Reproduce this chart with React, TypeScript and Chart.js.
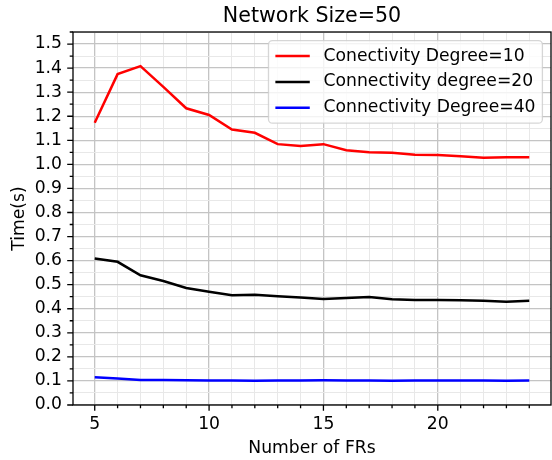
import React, { useEffect, useRef } from "react";
import { Chart, registerables } from "chart.js";

Chart.register(...registerables);

const frs = [5, 6, 7, 8, 9, 10, 11, 12, 13, 14, 15, 16, 17, 18, 19, 20, 21, 22, 23, 24];
const degree10 = [1.173, 1.375, 1.408, 1.322, 1.233, 1.205, 1.145, 1.131, 1.084, 1.076, 1.084, 1.059, 1.05, 1.048, 1.04, 1.039, 1.034, 1.027, 1.03, 1.03];
const degree20 = [0.609, 0.595, 0.539, 0.515, 0.486, 0.471, 0.456, 0.458, 0.452, 0.447, 0.44, 0.445, 0.449, 0.439, 0.436, 0.436, 0.435, 0.433, 0.429, 0.433];
const degree40 = [0.115, 0.11, 0.104, 0.104, 0.103, 0.102, 0.102, 0.101, 0.102, 0.102, 0.103, 0.102, 0.102, 0.101, 0.102, 0.102, 0.102, 0.102, 0.101, 0.102];
const seriesLabels = ["Conectivity Degree=10", "Connectivity degree=20", "Connectivity Degree=40"];
const seriesColors = ["#ff0000", "#000000", "#0000ff"];
const titleText = "Network Size=50";
const xTickValues = [4, 5, 6, 7, 8, 9, 10, 11, 12, 13, 14, 15, 16, 17, 18, 19, 20, 21, 22, 23, 24];
const xMajorTicks = [5, 10, 15, 20];
const yTickValues = Array.from({ length: 32 }, (_, i) => Math.round(i * 5) / 100);

const FONT = "DejaVu Sans";
const FS = 17.2;
const TITLE_FS = 20.6;

const isYMajor = (v: number) => Math.abs(v * 10 - Math.round(v * 10)) < 1e-6;
const isXMajor = (v: number) => xMajorTicks.includes(v);

const framePlugin = {
  id: "frame",
  afterDatasetsDraw(chart: any) {
    const { ctx, chartArea } = chart;
    const { left, right, top, bottom } = chartArea;
    const xs = chart.scales.x;
    const ys = chart.scales.y;
    ctx.save();
    ctx.strokeStyle = "#000";
    ctx.lineWidth = 1.3;
    ctx.beginPath();
    xTickValues.forEach((v) => {
      const px = xs.getPixelForValue(v);
      if (px < left - 0.5 || px > right + 0.5) return;
      const len = isXMajor(v) ? 5.8 : 3.3;
      ctx.moveTo(px, bottom);
      ctx.lineTo(px, bottom + len);
    });
    yTickValues.forEach((v) => {
      const py = ys.getPixelForValue(v);
      if (py < top - 0.5 || py > bottom + 0.5) return;
      const len = isYMajor(v) ? 5.8 : 3.3;
      ctx.moveTo(left, py);
      ctx.lineTo(left - len, py);
    });
    ctx.stroke();
    ctx.strokeRect(left, top, right - left, bottom - top);

    // title, centred over the axes
    ctx.font = `${TITLE_FS}px "${FONT}"`;
    ctx.fillStyle = "#000";
    ctx.textAlign = "center";
    ctx.textBaseline = "alphabetic";
    ctx.fillText(titleText, (left + right) / 2, 22.3);

    // legend
    ctx.font = `${FS}px "${FONT}"`;
    const pad = 0.4 * FS;
    const handle = 2 * FS;
    const textPad = 0.8 * FS;
    const rowH = 1.5 * FS;
    const maxW = Math.max(...seriesLabels.map((l) => ctx.measureText(l).width));
    const boxW = pad + handle + textPad + maxW + pad;
    const boxH = pad * 2 + FS + rowH * (seriesLabels.length - 1);
    const bx = right - 0.5 * FS - boxW;
    const by = top + 0.5 * FS;
    const r = 4;
    ctx.beginPath();
    ctx.moveTo(bx + r, by);
    ctx.lineTo(bx + boxW - r, by);
    ctx.arcTo(bx + boxW, by, bx + boxW, by + r, r);
    ctx.lineTo(bx + boxW, by + boxH - r);
    ctx.arcTo(bx + boxW, by + boxH, bx + boxW - r, by + boxH, r);
    ctx.lineTo(bx + r, by + boxH);
    ctx.arcTo(bx, by + boxH, bx, by + boxH - r, r);
    ctx.lineTo(bx, by + r);
    ctx.arcTo(bx, by, bx + r, by, r);
    ctx.closePath();
    ctx.fillStyle = "rgba(255,255,255,0.8)";
    ctx.fill();
    ctx.strokeStyle = "rgba(204,204,204,0.8)";
    ctx.lineWidth = 1.3;
    ctx.stroke();
    seriesLabels.forEach((label, i) => {
      const cy = by + pad + FS / 2 + i * rowH;
      ctx.beginPath();
      ctx.strokeStyle = seriesColors[i];
      ctx.lineWidth = 2.5;
      ctx.moveTo(bx + pad, cy);
      ctx.lineTo(bx + pad + handle, cy);
      ctx.stroke();
      ctx.fillStyle = "#000";
      ctx.textBaseline = "middle";
      ctx.textAlign = "left";
      ctx.fillText(label, bx + pad + handle + textPad, cy);
    });
    ctx.restore();
  },
};

export default function App() {
  const ref = useRef<HTMLCanvasElement | null>(null);
  useEffect(() => {
    document.body.style.margin = "0";
    if (!ref.current) return;
    Chart.defaults.font.family = FONT;
    Chart.defaults.color = "#000";
    const series = [degree10, degree20, degree40];
    const chart = new Chart(ref.current, {
      type: "line",
      data: {
        datasets: series.map((vals, i) => ({
          label: seriesLabels[i],
          data: frs.map((x, j) => ({ x, y: vals[j] })),
          borderColor: seriesColors[i],
          backgroundColor: seriesColors[i],
          borderWidth: 2.5,
          pointRadius: 0,
          tension: 0,
          fill: false,
        })),
      },
      options: {
        animation: false,
        responsive: false,
        layout: { padding: { left: 0, right: 1, top: 32, bottom: 0 } },
        plugins: {
          legend: { display: false },
          tooltip: { enabled: false },
          title: { display: false },
        },
        scales: {
          x: {
            type: "linear",
            min: 4.05,
            max: 24.95,
            afterBuildTicks: (s: any) => {
              s.ticks = xTickValues.filter((v) => v >= 4.05 && v <= 24.95).map((v) => ({ value: v }));
            },
            afterFit: (s: any) => {
              s.height = 55;
            },
            grid: {
              drawTicks: false,
              color: (c: any) => (isXMajor(c.tick?.value) ? "#c4c4c4" : "#e8e8e8"),
              lineWidth: (c: any) => (isXMajor(c.tick?.value) ? 1.3 : 1),
            },
            border: { display: false },
            ticks: {
              autoSkip: false,
              maxRotation: 0,
              padding: 9,
              font: { size: FS, family: FONT },
              color: "#000",
              callback: (v: any) => (isXMajor(Number(v)) ? String(v) : ""),
            },
            title: {
              display: true,
              text: "Number of FRs",
              color: "#000",
              font: { size: FS, family: FONT },
              padding: 1,
            },
          },
          y: {
            type: "linear",
            min: 0,
            max: 1.55,
            afterBuildTicks: (s: any) => {
              s.ticks = yTickValues.filter((v) => v <= 1.55).map((v) => ({ value: v }));
            },
            afterFit: (s: any) => {
              s.width = 73;
            },
            grid: {
              drawTicks: false,
              color: (c: any) => (isYMajor(c.tick?.value) ? "#c4c4c4" : "#e8e8e8"),
              lineWidth: (c: any) => (isYMajor(c.tick?.value) ? 1.3 : 1),
            },
            border: { display: false },
            ticks: {
              autoSkip: false,
              padding: 11,
              font: { size: FS, family: FONT },
              color: "#000",
              callback: (v: any) => (isYMajor(Number(v)) ? Number(v).toFixed(1) : ""),
            },
            title: {
              display: true,
              text: "Time(s)",
              color: "#000",
              font: { size: FS, family: FONT },
              padding: 9,
            },
          },
        },
      },
      plugins: [framePlugin],
    });
    return () => chart.destroy();
  }, []);
  return <canvas ref={ref} width={552} height={460} style={{ display: "block" }} />;
}
